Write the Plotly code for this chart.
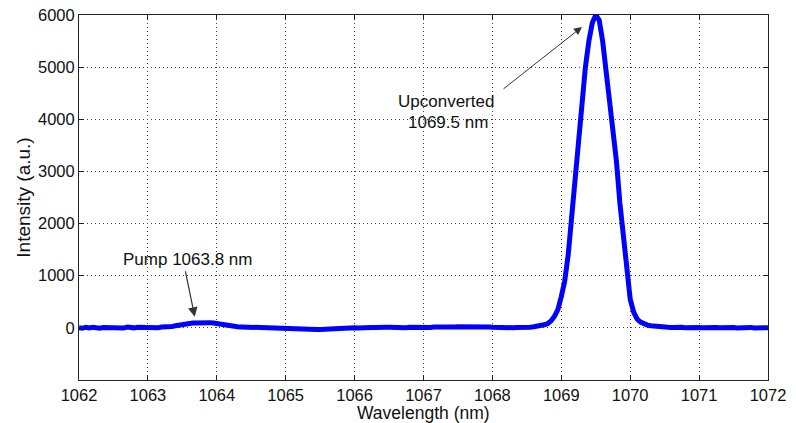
import plotly.graph_objects as go

wavelength = [
    1062.0, 1062.05, 1062.1, 1062.15, 1062.2, 1062.25, 1062.3, 1062.35, 1062.4, 1062.45,
    1062.5, 1062.55, 1062.6, 1062.65, 1062.7, 1062.75, 1062.8, 1062.85, 1062.9, 1062.95,
    1063.0, 1063.05, 1063.1, 1063.15, 1063.2, 1063.25, 1063.3, 1063.35, 1063.4, 1063.45,
    1063.5, 1063.55, 1063.6, 1063.65, 1063.7, 1063.75, 1063.8, 1063.85, 1063.9, 1063.95,
    1064.0, 1064.05, 1064.1, 1064.15, 1064.2, 1064.25, 1064.3, 1064.35, 1064.4, 1064.45,
    1064.5, 1064.55, 1064.6, 1064.65, 1064.7, 1064.75, 1064.8, 1064.85, 1064.9, 1064.95,
    1065.0, 1065.05, 1065.1, 1065.15, 1065.2, 1065.25, 1065.3, 1065.35, 1065.4, 1065.45,
    1065.5, 1065.55, 1065.6, 1065.65, 1065.7, 1065.75, 1065.8, 1065.85, 1065.9, 1065.95,
    1066.0, 1066.05, 1066.1, 1066.15, 1066.2, 1066.25, 1066.3, 1066.35, 1066.4, 1066.45,
    1066.5, 1066.55, 1066.6, 1066.65, 1066.7, 1066.75, 1066.8, 1066.85, 1066.9, 1066.95,
    1067.0, 1067.05, 1067.1, 1067.15, 1067.2, 1067.25, 1067.3, 1067.35, 1067.4, 1067.45,
    1067.5, 1067.55, 1067.6, 1067.65, 1067.7, 1067.75, 1067.8, 1067.85, 1067.9, 1067.95,
    1068.0, 1068.05, 1068.1, 1068.15, 1068.2, 1068.25, 1068.3, 1068.35, 1068.4, 1068.45,
    1068.5, 1068.55, 1068.6, 1068.65, 1068.7, 1068.75, 1068.8, 1068.85, 1068.9, 1068.95,
    1069.0, 1069.05, 1069.1, 1069.15, 1069.2, 1069.25, 1069.3, 1069.35, 1069.4, 1069.45,
    1069.5, 1069.55, 1069.6, 1069.65, 1069.7, 1069.75, 1069.8, 1069.85, 1069.9, 1069.95,
    1070.0, 1070.05, 1070.1, 1070.15, 1070.2, 1070.25, 1070.3, 1070.35, 1070.4, 1070.45,
    1070.5, 1070.55, 1070.6, 1070.65, 1070.7, 1070.75, 1070.8, 1070.85, 1070.9, 1070.95,
    1071.0, 1071.05, 1071.1, 1071.15, 1071.2, 1071.25, 1071.3, 1071.35, 1071.4, 1071.45,
    1071.5, 1071.55, 1071.6, 1071.65, 1071.7, 1071.75, 1071.8, 1071.85, 1071.9, 1071.95,
    1072.0,
]

intensity = [
    5, -8, 12, -2, 10, 0, -6, 8, 4, -5,
    -3, 9, 5, -4, 14, 2, 0, 10, 6, -3,
    3, 11, 9, 4, 15, 12, 20, 28, 40, 55,
    70, 82, 90, 94, 95, 100, 98, 102, 100, 92,
    80, 66, 50, 40, 30, 26, 20, 18, 15, 12,
    10, 12, 8, 5, 5, 2, 0, -4, -10, -15,
    -20, -26, -30, -33, -35, -38, -40, -38, -35, -32,
    -30, -25, -20, -14, -10, -8, -5, -2, 0, 4,
    3, -2, 5, 8, 0, 6, 8, 2, 5, 12,
    10, 4, 5, 11, 8, 3, 12, 9, 5, 14,
    10, 6, 8, 15, 12, 7, 15, 18, 10, 16,
    20, 22, 25, 28, 30, 34, 35, 30, 25, 18,
    10, 6, 5, 10, 8, 2, 3, 8, 5, 4,
    10, 14, 20, 28, 40, 58, 80, 130, 220, 350,
    600, 900, 1400, 2100, 3000, 3750, 4400, 5000, 5500, 5850,
    6000, 5900, 5500, 4950, 4400, 3900, 3200, 2400, 1700, 1000,
    550, 300, 170, 110, 70, 52, 40, 30, 25, 20,
    15, 12, 8, 14, 6, 10, 4, 9, 2, 8,
    5, 0, 7, 3, -2, 6, 4, 10, 0, 5,
    8, -3, 4, 6, 0, 9, -2, 5, 3, -4,
    2,
]

x_ticks = [1062, 1063, 1064, 1065, 1066, 1067, 1068, 1069, 1070, 1071, 1072]
y_ticks = [0, 1000, 2000, 3000, 4000, 5000, 6000]

FONT = "Liberation Sans"

fig = go.Figure()
fig.add_trace(go.Scatter(
    x=wavelength, y=intensity, mode="lines",
    line=dict(color="#0000FF", width=5),
    showlegend=False, hoverinfo="skip",
))

axis_common = dict(
    showline=True, linecolor="#222", linewidth=1, mirror="ticks",
    ticks="inside", ticklen=5, tickcolor="#222", tickwidth=1,
    showgrid=True, gridcolor="#444", gridwidth=1, griddash="1px,3px",
    zeroline=False, automargin=False, ticklabeloverflow="allow",
    tickfont=dict(family=FONT, size=16.5, color="#111"),
)

fig.update_xaxes(
    range=[1062, 1072], tickvals=x_ticks, ticktext=[str(v) for v in x_ticks],
    **axis_common,
)
fig.update_yaxes(
    range=[-1000, 6000], tickvals=y_ticks, ticktext=[str(v) for v in y_ticks],
    title=dict(text="Intensity (a.u.)", font=dict(family=FONT, size=19, color="#111"), standoff=2),
    **axis_common,
)

annotations = [
    dict(x=0.5, y=-0.0904, xref="paper", yref="paper", text="Wavelength (nm)",
         showarrow=False, xanchor="center", yanchor="middle",
         font=dict(family=FONT, size=17.5, color="#111")),
    dict(x=1063.57, y=1303, text="Pump 1063.8 nm", showarrow=False,
         xref="x", yref="y", font=dict(family=FONT, size=17, color="#111")),
    dict(x=1063.68, y=211, ax=1063.54, ay=1112, axref="x", ayref="y",
         xref="x", yref="y", text="", showarrow=True, arrowhead=2,
         arrowsize=1.6, arrowwidth=1.2, arrowcolor="#333", standoff=0),
    dict(x=1067.33, y=4332, text="Upconverted", showarrow=False,
         xref="x", yref="y", font=dict(family=FONT, size=17, color="#111")),
    dict(x=1067.35, y=3929, text="1069.5 nm", showarrow=False,
         xref="x", yref="y", font=dict(family=FONT, size=17, color="#111")),
    dict(x=1069.30, y=5770, ax=1068.14, ay=4562, axref="x", ayref="y",
         xref="x", yref="y", text="", showarrow=True, arrowhead=2,
         arrowsize=1.6, arrowwidth=1, arrowcolor="#333", standoff=0),
]

fig.update_layout(
    width=796, height=423, autosize=False,
    margin=dict(l=71, r=36, t=7, b=51, pad=0),
    paper_bgcolor="white", plot_bgcolor="white",
    annotations=annotations,
    font=dict(family=FONT),
)

fig.write_html("out.html")
